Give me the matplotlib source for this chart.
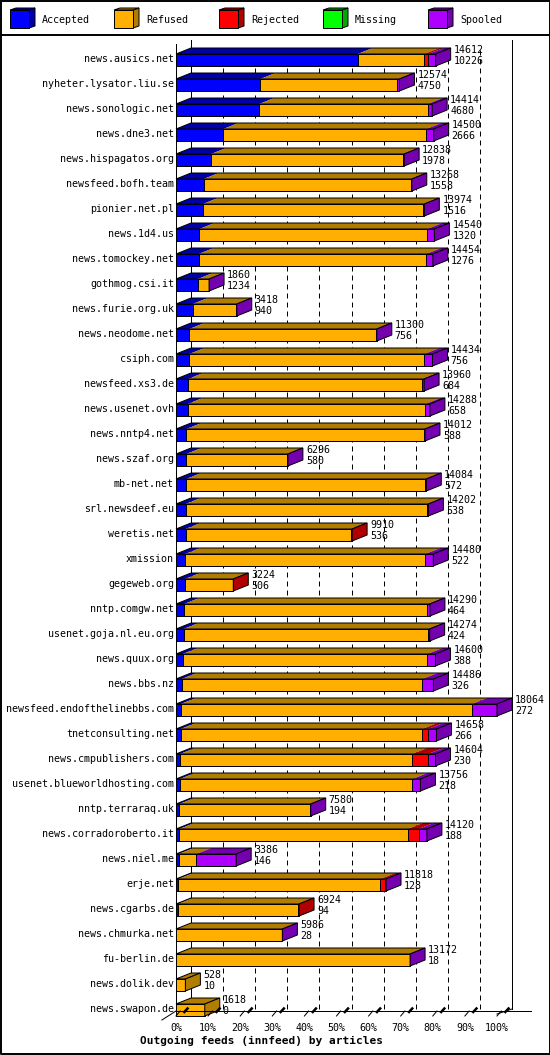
import matplotlib
matplotlib.use("Agg")
import matplotlib.pyplot as plt
from matplotlib.patches import Polygon
import numpy as np

# innfeed outgoing feeds, articles per peer
hosts = ["news.ausics.net", "nyheter.lysator.liu.se", "news.sonologic.net", "news.dne3.net",
         "news.hispagatos.org", "newsfeed.bofh.team", "pionier.net.pl", "news.1d4.us",
         "news.tomockey.net", "gothmog.csi.it", "news.furie.org.uk", "news.neodome.net",
         "csiph.com", "newsfeed.xs3.de", "news.usenet.ovh", "news.nntp4.net", "news.szaf.org",
         "mb-net.net", "srl.newsdeef.eu", "weretis.net", "xmission", "gegeweb.org",
         "nntp.comgw.net", "usenet.goja.nl.eu.org", "news.quux.org", "news.bbs.nz",
         "newsfeed.endofthelinebbs.com", "tnetconsulting.net", "news.cmpublishers.com",
         "usenet.blueworldhosting.com", "nntp.terraraq.uk", "news.corradoroberto.it",
         "news.niel.me", "erje.net", "news.cgarbs.de", "news.chmurka.net", "fu-berlin.de",
         "news.dolik.dev", "news.swapon.de"]
offered = [14612, 12574, 14414, 14500, 12838, 13268, 13974, 14540, 14454, 1860, 3418, 11300,
           14434, 13960, 14288, 14012, 6296, 14084, 14202, 9910, 14480, 3224, 14290, 14274,
           14600, 14486, 18064, 14658, 14604, 13756, 7580, 14120, 3386, 11818, 6924, 5986,
           13172, 528, 1618]
accepted = [10226, 4750, 4680, 2666, 1978, 1558, 1516, 1320, 1276, 1234, 940, 756, 756, 684,
            658, 588, 580, 572, 538, 536, 522, 506, 464, 424, 388, 326, 272, 266, 230, 218,
            194, 188, 146, 128, 94, 28, 18, 10, 0]
rejected = [225, 0, 0, 0, 0, 0, 40, 0, 0, 0, 0, 0, 0, 0, 0, 0, 0, 0, 0, 60, 0, 40, 0, 0,
            0, 0, 0, 320, 900, 0, 0, 600, 0, 240, 40, 0, 0, 0, 0]
missing = [0] * 39
spooled = [410, 110, 245, 410, 40, 40, 30, 400, 370, 20, 20, 20, 450, 100, 250, 60, 30, 80,
           60, 0, 450, 0, 150, 100, 450, 620, 1400, 470, 410, 450, 30, 470, 2240, 80, 0, 20,
           20, 0, 0]

series = ["Accepted", "Refused", "Rejected", "Missing", "Spooled"]
x_ticks = [0, 10, 20, 30, 40, 50, 60, 70, 80, 90, 100]
title = "Outgoing feeds (innfeed) by articles"

face = ["#0000ff", "#ffaf00", "#ff0000", "#00ff00", "#af00ff"]
shade = ["#0000a8", "#b07d00", "#b00000", "#00a800", "#7400b0"]

offered = np.array(offered, dtype=float)
accepted = np.array(accepted, dtype=float)
rejected = np.array(rejected, dtype=float)
missing = np.array(missing, dtype=float)
spooled = np.array(spooled, dtype=float)
refused = offered - accepted - rejected - missing - spooled
parts = np.vstack([accepted, refused, rejected, missing, spooled])
pct = parts / offered.max() * 100

W, H = 550, 1055
PX_PCT = 3.21   # pixels per percent
X0 = 176        # pixel of 0%
ROW = 25        # pixels per row
Y0 = 60         # pixel of first row
DX = 15 / PX_PCT
DY = 6 / ROW
HALF = 6 / ROW
LW = 0.72
FONT = "DejaVu Sans Mono"

fig = plt.figure(figsize=(W / 100, H / 100), dpi=100)

# pixel axes for frame + legend
pax = fig.add_axes([0, 0, 1, 1])
pax.set_xlim(0, W)
pax.set_ylim(H, 0)
pax.axis("off")
pax.plot([0.5, W - 0.5, W - 0.5, 0.5, 0.5], [0.5, 0.5, H - 1, H - 1, 0.5], color="black", lw=1.4)
pax.plot([0, W], [34.5, 34.5], color="black", lw=1.4)

leg_x = [10, 114, 219, 323, 428]
for i, name in enumerate(series):
    x = leg_x[i]
    pax.add_patch(Polygon([(x + 19, 10), (x + 25, 8), (x + 25, 26), (x + 19, 28)],
                          closed=True, fc=shade[i], ec="black", lw=LW))
    pax.add_patch(Polygon([(x, 10), (x + 6, 8), (x + 25, 8), (x + 19, 10)],
                          closed=True, fc=shade[i], ec="black", lw=LW))
    pax.add_patch(Polygon([(x, 10), (x + 19, 10), (x + 19, 28), (x, 28)],
                          closed=True, fc=face[i], ec="black", lw=LW))
    pax.text(x + 32, 20, name, family=FONT, fontsize=7.2, ha="left", va="center")

# data axes: x in percent, y in rows
ax = fig.add_axes([0, 0, 1, 1])
ax.patch.set_alpha(0)
ax.set_xlim(-X0 / PX_PCT, (W - X0) / PX_PCT)
ax.set_ylim((H - Y0) / ROW, -Y0 / ROW)
ax.axis("off")

n = len(hosts)
top = (40 - Y0) / ROW
floor = (1011 - Y0) / ROW

for t in x_ticks[1:-1]:
    ax.plot([t + DX, t + DX], [top + 0.4, floor - 0.1], color="black", lw=LW,
            linestyle=(0, (5, 4)), zorder=1)
ax.plot([DX, DX], [top, floor - 0.1], color="black", lw=LW, zorder=1)
ax.plot([100 + DX, 100 + DX], [top, floor - 0.1], color="black", lw=LW, zorder=1)
ax.plot([0, 0], [top + 0.16, floor + 0.1], color="black", lw=LW, zorder=4)
ax.plot([0, 100 + DX + 6], [floor, floor], color="black", lw=LW, zorder=4)
ax.plot([-4.4, 0], [floor + 0.36, floor], color="black", lw=LW, zorder=4)
ax.plot([100, 100 + DX], [floor + 0.12, floor - 0.08], color="black", lw=LW, zorder=4)

for t in x_ticks:
    ax.plot([t, t + 1.3], [floor + 0.2, floor], color="black", lw=LW, zorder=4)
    ax.plot([t + 2.6, t + 3.6], [floor + 0.04, floor - 0.1], color="black", lw=1.8, zorder=4)
    ax.text(t, floor + 0.68, f"{t}%", family=FONT, fontsize=7.2, ha="center", va="center")

ax.text(26.5, floor + 1.2, title, family=FONT, fontsize=8, fontweight="bold",
        ha="center", va="center")

for r in range(n):
    lo = r - HALF
    hi = r + HALF
    left = 0.0
    last = 0
    for k in range(len(series)):
        w = pct[k, r]
        if w <= 0:
            continue
        right = left + w
        ax.add_patch(Polygon([(left, lo), (right, lo), (right + DX, lo - DY), (left + DX, lo - DY)],
                             closed=True, fc=shade[k], ec="none", zorder=3))
        ax.add_patch(Polygon([(left, lo), (right, lo), (right, hi), (left, hi)],
                             closed=True, fc=face[k], ec="black", lw=LW, zorder=3))
        left = right
        last = k
    end = left
    ax.add_patch(Polygon([(0, lo), (end, lo), (end + DX, lo - DY), (DX, lo - DY)],
                         closed=True, fill=False, ec="black", lw=LW, zorder=3))
    ax.add_patch(Polygon([(end, lo), (end + DX, lo - DY), (end + DX, hi - DY), (end, hi)],
                         closed=True, fc=shade[last], ec="black", lw=LW, zorder=3))

    ax.text(-2 / PX_PCT, r - 1 / ROW, hosts[r], family=FONT, fontsize=7.2,
            ha="right", va="center")
    tx = end + DX + 3 / PX_PCT
    ax.text(tx, r - 10 / ROW, f"{int(offered[r])}", family=FONT, fontsize=7.2,
            ha="left", va="center", zorder=5)
    ax.text(tx, r + 1 / ROW, f"{int(accepted[r])}", family=FONT, fontsize=7.2,
            ha="left", va="center", zorder=5)

fig.savefig("out.png", dpi=100)
